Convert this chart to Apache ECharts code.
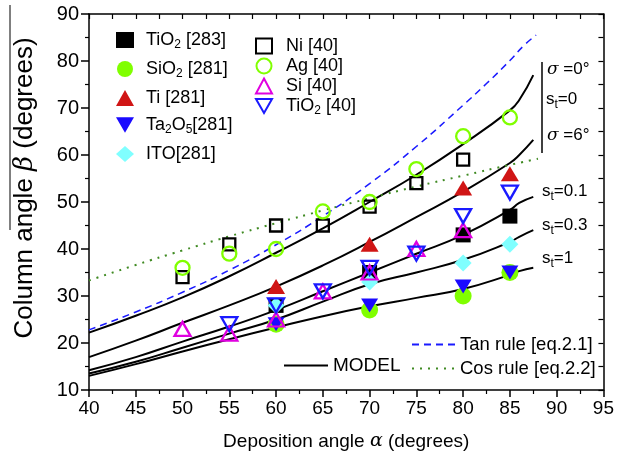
<!DOCTYPE html>
<html><head><meta charset="utf-8">
<script src="https://cdn.jsdelivr.net/npm/echarts@6/dist/echarts.min.js"></script>
<style>html,body{margin:0;padding:0;background:#fff}#c{width:617px;height:458px}</style>
</head><body><div id="c"></div>
<script>
// ---- axis ranges / ticks ----
const xRange = [40, 95];
const xStep = 5;
const yRange = [10, 90];
const yStep = 10;

// ---- experimental data: [deposition angle alpha, column angle beta] ----
const tio2_283 = [[60,28],[70,35],[80,43],[85,47]];
const sio2_281 = [[60,24],[70,27],[80,30],[85,35]];
const ti_281   = [[60,32],[70,41],[80,53],[85,56]];
const ta2o5_281= [[60,24],[70,28],[80,32],[85,35]];
const ito_281  = [[60,28],[70,33],[80,37],[85,41]];
const ni_40    = [[50,34],[55,41],[60,45],[65,45],[70,49],[75,54],[80,59]];
const ag_40    = [[50,36],[55,39],[60,40],[65,48],[70,50],[75,57],[80,64],[85,68]];
const si_40    = [[50,23],[55,22],[60,25],[65,31],[70,35],[75,40],[80,44]];
const tio2_40  = [[55,24],[60,28],[65,31],[70,36],[75,39],[80,47],[85,52]];

// ---- model curves ----
const model_s0  = [[40,22.2],[45,25.8],[50,29.7],[55,34.2],[60,39.2],[65,44.4],[70,50],[75,55.8],[80,62.3],[85,69.5],[86,71.7],[87.5,77]];
const model_s6  = [[40,17],[45,20.5],[50,24.3],[55,28],[60,32],[65,36.5],[70,41.5],[75,46.8],[80,52.2],[85,58.3],[86,60],[87.5,63.2]];
const model_t01 = [[40,14.2],[45,17],[50,20.3],[55,23.5],[60,27],[65,31],[70,35],[75,39],[80,43],[85,48.3],[86,49.8],[87.5,51.1]];
const model_t03 = [[40,13.5],[45,16],[50,19],[55,22],[60,25],[65,28.8],[70,32.5],[75,35],[80,37.7],[85,41.5],[86,42.6],[87.5,44]];
const model_t1  = [[40,13],[45,15.5],[50,18.2],[55,20.8],[60,23.3],[65,25.7],[70,27.8],[75,29.6],[80,31.5],[85,34.5],[86,35.3],[87.5,36]];
const tanRule = [[40,22.8],[45,26.6],[50,30.8],[55,35.5],[60,40.9],[65,47.0],[70,53.9],[75,61.8],[80,70.6],[82.5,75.2],[85,80.1],[86.5,83.3],[87.8,85.5]];
const cosRule = [[40,33.3],[45,36.6],[50,39.7],[55,42.7],[60,45.5],[65,48.2],[70,50.8],[75,53.3],[80,55.6],[85,57.9],[88,59.2]];

const FONT = 'Liberation Sans, Arial, sans-serif';
const SERIF = 'DejaVu Serif, serif';
const downTri = 'path://M0,0 L10,0 L5,8.66 Z';

const subRich = {
  n: {fontSize: 18, fontFamily: FONT, color: '#000'},
  s: {fontSize: 12, fontFamily: FONT, color: '#000', padding: [10,0,0,0]},
  sp1: {width: 7},
  sp2: {width: 9}
};
const labRich = {
  n: {fontSize: 17, fontFamily: FONT, color: '#000'},
  s: {fontSize: 12, fontFamily: FONT, color: '#000', padding: [10,0,0,0]},
  g: {fontSize: 17, fontFamily: SERIF, fontStyle: 'italic', color: '#000'}
};
const legendLabels = {
  'TiO2 [283]': '{sp1|}{n|TiO}{s|2}{n| [283]}',
  'SiO2 [281]': '{sp1|}{n|SiO}{s|2}{n| [281]}',
  'Ti [281]': '{sp1|}{n|Ti [281]}',
  'Ta2O5[281]': '{sp1|}{n|Ta}{s|2}{n|O}{s|5}{n|[281]}',
  'ITO[281]': '{sp1|}{n|ITO[281]}',
  'Ni [40]': '{sp2|}{n|Ni [40]}',
  'Ag [40]': '{sp2|}{n|Ag [40]}',
  'Si [40]': '{sp2|}{n|Si [40]}',
  'TiO2 [40]': '{sp2|}{n|TiO}{s|2}{n| [40]}'
};

function filled(name, data, symbol, size, color) {
  return {name, type:'scatter', data, symbol, symbolSize:size,
    itemStyle:{color, opacity:1}, z:3};
}
function open(name, data, symbol, size, color) {
  return {name, type:'scatter', data, symbol, symbolSize:size,
    itemStyle:{color:'rgba(255,255,255,0)', borderColor:color, borderWidth:2.3, opacity:1}, z:4};
}
function model(data) {
  return {name:'MODEL', type:'line', data, smooth:true, symbol:'none',
    lineStyle:{color:'#000', width:2}, itemStyle:{color:'#000'}, z:2};
}

const chart = echarts.init(document.getElementById('c'));
chart.setOption({
  animation:false,
  backgroundColor:'#fff',
  grid:{left:89, right:12, top:14, bottom:68},
  xAxis:[{
    type:'value', min:xRange[0], max:xRange[1], interval:xStep,
    axisLine:{show:true, lineStyle:{color:'#000', width:1.5}},
    axisTick:{show:true, inside:false, length:7, lineStyle:{color:'#000', width:1.5}},
    minorTick:{show:true, splitNumber:2, length:4, lineStyle:{color:'#000', width:1.2}},
    splitLine:{show:false},
    axisLabel:{color:'#000', fontSize:19, fontFamily:FONT, margin:9},
    name:'{n|Deposition angle }{g|α}{n| (degrees)}', nameLocation:'middle', nameGap:42,
    nameTextStyle:{rich:{n:{fontSize:19, fontFamily:FONT, color:'#000'}, g:{fontSize:19, fontFamily:SERIF, fontStyle:'italic', color:'#000'}}}
  },{
    type:'value', position:'top', min:xRange[0], max:xRange[1], interval:xStep/2,
    axisLine:{show:true, lineStyle:{color:'#000', width:1.5}},
    axisTick:{show:true, inside:true, length:5, lineStyle:{color:'#000', width:1.2}},
    axisLabel:{show:false}, splitLine:{show:false}
  }],
  yAxis:[{
    type:'value', min:yRange[0], max:yRange[1], interval:yStep,
    axisLine:{show:true, lineStyle:{color:'#000', width:1.5}},
    axisTick:{show:true, inside:false, length:8, lineStyle:{color:'#000', width:1.5}},
    minorTick:{show:true, splitNumber:2, length:4, lineStyle:{color:'#000', width:1.2}},
    splitLine:{show:false},
    axisLabel:{color:'#000', fontSize:20, fontFamily:FONT, margin:10}
  },{
    type:'value', position:'right', min:yRange[0], max:yRange[1], interval:yStep/2,
    axisLine:{show:true, lineStyle:{color:'#000', width:1.5}},
    axisTick:{show:true, inside:true, length:5, lineStyle:{color:'#000', width:1.2}},
    axisLabel:{show:false}, splitLine:{show:false}
  }],
  legend:[{
    orient:'vertical', left:111, top:26, itemGap:9, itemWidth:18, itemHeight:16,
    data:[{name:'TiO2 [283]'},{name:'SiO2 [281]'},{name:'Ti [281]'},{name:'Ta2O5[281]', icon:downTri},{name:'ITO[281]'}],
    formatter:n=>legendLabels[n], textStyle:{rich:subRich}, selectedMode:false
  },{
    orient:'vertical', left:250, top:32, itemGap:2, itemWidth:16, itemHeight:15,
    data:[{name:'Ni [40]'},{name:'Ag [40]'},{name:'Si [40]'},{name:'TiO2 [40]', icon:downTri}],
    formatter:n=>legendLabels[n], textStyle:{rich:subRich}, selectedMode:false
  },{
    orient:'vertical', left:278, top:351, itemWidth:44, itemHeight:10,
    itemStyle:{opacity:0},
    data:['MODEL'], textStyle:{fontSize:19, fontFamily:FONT, color:'#000'}, selectedMode:false
  },{
    orient:'vertical', left:406, top:330, itemGap:5, itemWidth:43, itemHeight:10,
    itemStyle:{opacity:0},
    data:['Tan rule [eq.2.1]','Cos rule [eq.2.2]'], textStyle:{fontSize:18.5, fontFamily:FONT, color:'#000'}, selectedMode:false
  }],
  series:[
    model(model_s0), model(model_s6), model(model_t01), model(model_t03), model(model_t1),
    {name:'Tan rule [eq.2.1]', type:'line', data:tanRule, smooth:true, symbol:'none',
      lineStyle:{color:'#1a1aff', width:1.5, type:[7,5]}, itemStyle:{color:'#1a1aff'}, z:2},
    {name:'Cos rule [eq.2.2]', type:'line', data:cosRule, smooth:true, symbol:'none',
      lineStyle:{color:'#3f8a22', width:2, type:[2,6]}, itemStyle:{color:'#3f8a22'}, z:2},
    filled('TiO2 [283]', tio2_283, 'rect', 15, '#000'),
    filled('SiO2 [281]', sio2_281, 'circle', 17, '#80ff00'),
    filled('Ti [281]', ti_281, 'triangle', [18,15], '#d01515'),
    filled('Ta2O5[281]', ta2o5_281, downTri, [17,14], '#1a0aff'),
    filled('ITO[281]', ito_281, 'diamond', 17, '#80ffff'),
    open('Ni [40]', ni_40, 'rect', 12, '#000'),
    open('Ag [40]', ag_40, 'circle', 14, '#80ff00'),
    open('Si [40]', si_40, 'triangle', [16,14], '#e000e0'),
    open('TiO2 [40]', tio2_40, downTri, [16,14], '#1a1aff')
  ],
  graphic:[
    {type:'text', x:25, y:188, rotation:Math.PI/2,
      style:{text:'{n|Column angle }{g|β}{n| (degrees)}', align:'center', verticalAlign:'middle',
        rich:{n:{fontSize:26, fontFamily:FONT, color:'#000'}, g:{fontSize:26, fontFamily:SERIF, fontStyle:'italic', color:'#000'}}}},
    {type:'line', shape:{x1:10,y1:5,x2:10,y2:230}, style:{stroke:'#000', lineWidth:1}},
    {type:'line', shape:{x1:542,y1:62,x2:542,y2:153}, style:{stroke:'#000', lineWidth:1.5}},
    {type:'text', left:547, top:61, style:{text:'{g|σ}{n| =0°}', rich:labRich}},
    {type:'text', left:546, top:91, style:{text:'{n|s}{s|t}{n|=0}', rich:labRich}},
    {type:'text', left:547, top:127, style:{text:'{g|σ}{n| =6°}', rich:labRich}},
    {type:'text', left:542, top:183, style:{text:'{n|s}{s|t}{n|=0.1}', rich:labRich}},
    {type:'text', left:542, top:217, style:{text:'{n|s}{s|t}{n|=0.3}', rich:labRich}},
    {type:'text', left:542, top:250, style:{text:'{n|s}{s|t}{n|=1}', rich:labRich}}
  ]
});
</script></body></html>
